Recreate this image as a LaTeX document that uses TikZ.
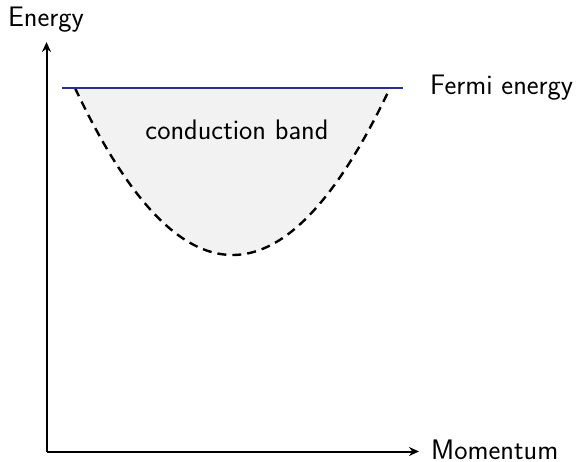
\documentclass[tikz,border=0pt]{standalone}
\usepackage{fontspec}
\usetikzlibrary{arrows.meta}
\definecolor{fermiblue}{RGB}{45,45,150}
\definecolor{bandgray}{RGB}{242,242,242}
\begin{document}
\begin{tikzpicture}[x=1pt,y=-1pt,
  lbl/.style={font=\sffamily\fontsize{28.2}{32}\selectfont, inner sep=0pt},
  axis/.style={line width=2pt,-{Stealth[length=10pt,width=9pt]}}]
\useasboundingbox (0,0) rectangle (576,462);
\coordinate (O) at (46.5,451.5);
\coordinate (ytip) at (46.5,42);
\coordinate (xtip) at (419,451.5);
\coordinate (fl) at (62,88);
\coordinate (fr) at (403,88);
\fill[bandgray] plot[domain=-1:1,samples=80] ({232.5+157.5*\x},{255-167*\x*\x}) -- cycle;
\draw[line width=2.4pt, dash pattern=on 9pt off 6pt] plot[domain=-1:1,samples=80] ({232.5+157.5*\x},{255-167*\x*\x});
\draw[fermiblue, line width=2pt] (fl) -- (fr);
\draw[axis] (O) -- (ytip);
\draw[axis] (O) -- (xtip);
\node[lbl] (energy) at (46,20) {Energy};
\node[lbl, anchor=west] (momentum) at (431,450) {Momentum};
\node[lbl, anchor=west] (fermi) at (430,88) {Fermi energy};
\node[lbl] (band) at (237,130) {conduction band};
\end{tikzpicture}
\end{document}
